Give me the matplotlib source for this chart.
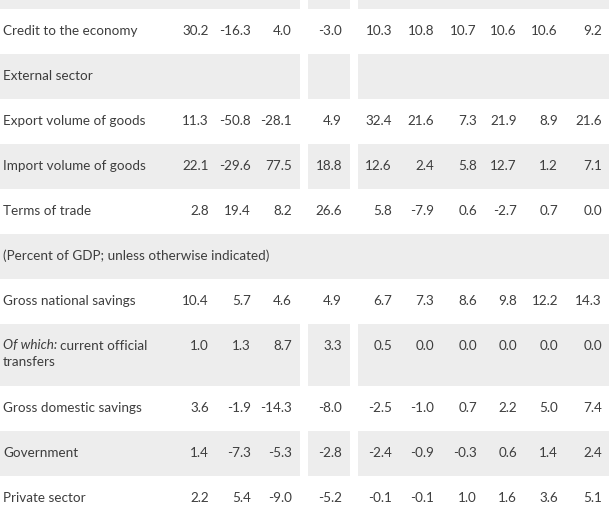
import matplotlib.pyplot as plt
from matplotlib.patches import Rectangle

plt.rcParams['font.family'] = ['Lato', 'DejaVu Sans']

labels = ["Credit to the economy", "External sector", "Export volume of goods",
          "Import volume of goods", "Terms of trade",
          "(Percent of GDP; unless otherwise indicated)", "Gross national savings",
          "current official", "Gross domestic savings", "Government", "Private sector"]
credit = [30.2, -16.3, 4.0, -3.0, 10.3, 10.8, 10.7, 10.6, 10.6, 9.2]
export_vol = [11.3, -50.8, -28.1, 4.9, 32.4, 21.6, 7.3, 21.9, 8.9, 21.6]
import_vol = [22.1, -29.6, 77.5, 18.8, 12.6, 2.4, 5.8, 12.7, 1.2, 7.1]
terms = [2.8, 19.4, 8.2, 26.6, 5.8, -7.9, 0.6, -2.7, 0.7, 0.0]
gross_nat = [10.4, 5.7, 4.6, 4.9, 6.7, 7.3, 8.6, 9.8, 12.2, 14.3]
official_tr = [1.0, 1.3, 8.7, 3.3, 0.5, 0.0, 0.0, 0.0, 0.0, 0.0]
gross_dom = [3.6, -1.9, -14.3, -8.0, -2.5, -1.0, 0.7, 2.2, 5.0, 7.4]
government = [1.4, -7.3, -5.3, -2.8, -2.4, -0.9, -0.3, 0.6, 1.4, 2.4]
private = [2.2, 5.4, -9.0, -5.2, -0.1, -0.1, 1.0, 1.6, 3.6, 5.1]
values = [credit, None, export_vol, import_vol, terms, None, gross_nat,
          official_tr, gross_dom, government, private]

# layout (pixels)
heights = [45, 45, 45, 45, 45, 45, 45, 62, 45, 45, 45]
shaded = [False, True, False, True, False, True, False, True, False, True, False]
full_width = [False, False, False, False, False, True, False, False, False, False, False]
col_right = [209, 251, 292, 342, 392, 434, 477, 517, 558, 602]
blocks = [(0, 300), (308, 350), (358, 609)]
gray = '#ededed'
ink = '#3d3d3d'
fs = 9.7

fig = plt.figure(figsize=(6.09, 5.2), dpi=100)
ax = fig.add_axes([0, 0, 1, 1])
ax.set_xlim(0, 609)
ax.set_ylim(520, 0)
ax.axis('off')

# partial shaded row at the top
for x0, x1 in blocks:
    ax.add_patch(Rectangle((x0, 0), x1 - x0, 8.5, color=gray, lw=0))

top = 8.5
for i, lab in enumerate(labels):
    h = heights[i]
    if shaded[i]:
        if full_width[i]:
            ax.add_patch(Rectangle((0, top), 609, h, color=gray, lw=0))
        else:
            for x0, x1 in blocks:
                ax.add_patch(Rectangle((x0, top), x1 - x0, h, color=gray, lw=0))
    if h > 45:
        yc = top + 22
        t = ax.text(3, yc, "Of which:", style='italic', fontsize=fs, color=ink, va='center')
        r = fig.canvas.get_renderer()
        bb = t.get_window_extent(renderer=r)
        x_end = ax.transData.inverted().transform((bb.x1, bb.y0))[0]
        ax.text(x_end + 3, yc, lab, fontsize=fs, color=ink, va='center')
        ax.text(3, yc + 16, "transfers", fontsize=fs, color=ink, va='center')
    else:
        yc = top + h / 2
        ax.text(3, yc, lab, fontsize=fs, color=ink, va='center')
    if values[i] is not None:
        for xr, v in zip(col_right, values[i]):
            ax.text(xr, yc, f"{v:.1f}", fontsize=fs, color=ink, va='center', ha='right')
    top += h

fig.savefig('out.png', dpi=100)
